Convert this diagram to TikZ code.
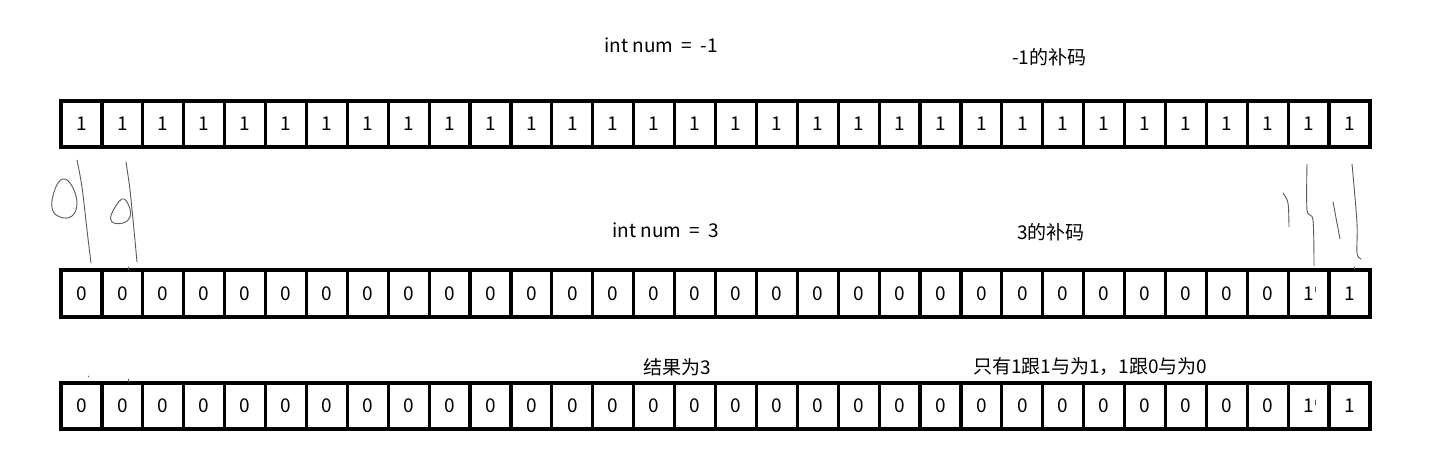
\documentclass[tikz,border=0pt]{standalone}
\usepackage{fontspec}
\setmainfont{Noto Sans CJK SC}
\tikzset{
  bitbox/.style={draw, line width=3.2pt, minimum width=40.9pt, minimum height=46pt,
    inner sep=0pt, font=\fontsize{19}{19}\selectfont},
  note/.style={font=\fontsize{19}{22}\selectfont, inner sep=0pt, anchor=west},
  pen/.style={gray!70!black, line width=0.9pt, line cap=round, line join=round},
}
\begin{document}
\begin{tikzpicture}[x=1pt, y=-1pt]
    \useasboundingbox (0,0) rectangle (1449,450);

    % -1 row
    \foreach \i in {1,...,32}
        \node[bitbox] (a\i) at ({61+40.906*(\i-0.5)}, 124) {1};
    \node[note] (numA) at (604, 45) {int num ~=~ -1};
    \node[note] (codeA) at (1012, 57) {-1的补码};

    % 3 row
    \foreach \i in {1,...,32} {
        \pgfmathtruncatemacro\bit{\i>30}
        \node[bitbox, minimum height=47pt] (b\i) at ({61+40.906*(\i-0.5)}, 293.5) {\bit};
    }
    \node[note] (numB) at (612, 230) {int num ~=~ 3};
    \node[note] (codeB) at (1017, 232) {3的补码};

    % result row
    \foreach \i in {1,...,32} {
        \pgfmathtruncatemacro\bit{\i>30}
        \node[bitbox] (c\i) at ({61+40.906*(\i-0.5)}, 406) {\bit};
    }
    \node[note] (resC) at (643, 367) {结果为3};
    \node[note] (ruleC) at (973, 367) {只有1跟1与为1，1跟0与为0};

    % hand strokes, left
    \draw[pen] plot[smooth cycle, tension=0.7] coordinates
        {(63,179) (72,186) (77,203) (72,216) (60,217) (52,208) (55,189)};
    \draw[pen] plot[smooth] coordinates {(77,160) (82,187) (87,230) (91,263)};
    \draw[pen] plot[smooth cycle, tension=0.7] coordinates
        {(122,199) (129,206) (130,217) (123,223) (112,222) (112,213)};
    \draw[pen] plot[smooth] coordinates {(126,162) (130,190) (134,230) (137,262)};
    \draw[pen] (128,267) -- (128,270);
    \draw[pen] (88,376) -- (88,377);
    \draw[pen] (128,379) -- (128,382);

    % hand strokes, right
    \draw[pen] plot[smooth] coordinates {(1283,193) (1288,203) (1289,227)};
    \draw[pen] plot[smooth] coordinates {(1307,164) (1307,210) (1313,220) (1314,266)};
    \draw[pen] (1333,202) -- (1340,239);
    \draw[pen] plot[smooth] coordinates {(1352,164) (1357,223) (1357,253) (1361,259)};
    \draw[pen] (1354,267) -- (1354,269);
    \draw[pen] (1315,287) -- (1315,292);
    \draw[pen] (1315,400) -- (1315,405);
\end{tikzpicture}
\end{document}
